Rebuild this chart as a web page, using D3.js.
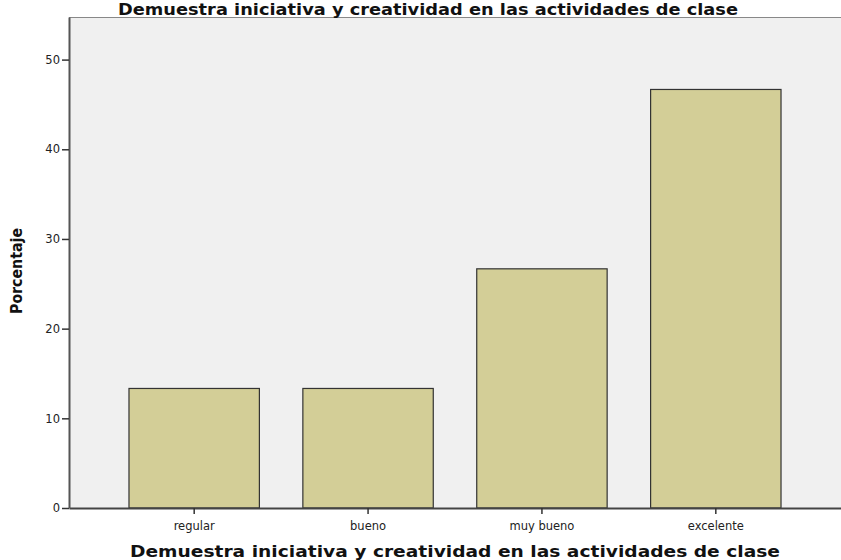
<!DOCTYPE html>
<html>
<head>
<meta charset="utf-8">
<script src="https://cdn.jsdelivr.net/npm/d3@7"></script>
<style>
  body { margin: 0; background: #fff; }
  .tick text { font-family: "DejaVu Sans", sans-serif; font-size: 11.5px; fill: #222; }
  .title { font-family: "DejaVu Sans", sans-serif; font-weight: bold; font-size: 15px; fill: #111; }
</style>
</head>
<body>
<div id="chart"></div>
<script>
// Category labels and percentages.
const categories = ['regular', 'bueno', 'muy bueno', 'excelente'];
const percentages = [13.33, 13.33, 26.67, 46.67];
const yTicks = [0, 10, 20, 30, 40, 50];
const chartTitle = 'Demuestra iniciativa y creatividad en las actividades de clase';
const yLabel = 'Porcentaje';

const imageWidth = 841;
const imageHeight = 560;
const margin = {
  top: 17, right: 0, bottom: 52, left: 69,
};
const width = imageWidth - margin.left - margin.right;
const height = imageHeight - margin.top - margin.bottom;

const svg = d3.select('#chart').append('svg')
  .attr('width', imageWidth)
  .attr('height', imageHeight);

const g = svg.append('g')
  .attr('transform', `translate(${margin.left},${margin.top})`);

const x = d3.scaleBand()
  .domain(categories)
  .range([0, width])
  .paddingInner(0.25)
  .paddingOuter(0.345);

const y = d3.scaleLinear()
  .domain([0, 54.75])
  .range([height, 0]);

// Plot background and top frame line.
g.append('rect')
  .attr('width', width)
  .attr('height', height)
  .attr('fill', '#f0f0f0');
g.append('line')
  .attr('x1', 0).attr('x2', width)
  .attr('y1', 0.5).attr('y2', 0.5)
  .attr('stroke', '#888');

// Bars
g.selectAll('.bar')
  .data(percentages)
  .join('rect')
  .attr('class', 'bar')
  .attr('x', (d, i) => x(categories[i]))
  .attr('y', (d) => y(d))
  .attr('width', x.bandwidth())
  .attr('height', (d) => height - y(d))
  .attr('fill', '#d3ce97')
  .attr('stroke', '#333')
  .attr('stroke-width', 1.2);

// Axes
const xAxis = g.append('g')
  .attr('transform', `translate(0,${height})`)
  .call(d3.axisBottom(x).tickSize(6).tickSizeOuter(0));
xAxis.select('.domain').attr('stroke', '#444').attr('stroke-width', 2);
xAxis.selectAll('.tick line').attr('stroke', '#333').attr('stroke-width', 1.5);
xAxis.selectAll('.tick text').attr('dy', '1.15em');

const yAxis = g.append('g')
  .call(d3.axisLeft(y).tickValues(yTicks).tickSize(7).tickSizeOuter(0).tickPadding(2));
yAxis.select('.domain').attr('stroke', '#555').attr('stroke-width', 2);
yAxis.selectAll('.tick line').attr('stroke', '#333').attr('stroke-width', 1.5);

// Titles
svg.append('text')
  .attr('class', 'title')
  .attr('x', 428)
  .attr('y', 15)
  .attr('text-anchor', 'middle')
  .attr('textLength', 620)
  .attr('lengthAdjust', 'spacingAndGlyphs')
  .text(chartTitle);

svg.append('text')
  .attr('class', 'title')
  .attr('x', 455)
  .attr('y', 557)
  .attr('text-anchor', 'middle')
  .attr('textLength', 650)
  .attr('lengthAdjust', 'spacingAndGlyphs')
  .text(chartTitle);

svg.append('text')
  .attr('class', 'title')
  .attr('transform', 'translate(22,271) rotate(-90)')
  .attr('text-anchor', 'middle')
  .attr('textLength', 86)
  .attr('lengthAdjust', 'spacingAndGlyphs')
  .text(yLabel);
</script>
</body>
</html>
